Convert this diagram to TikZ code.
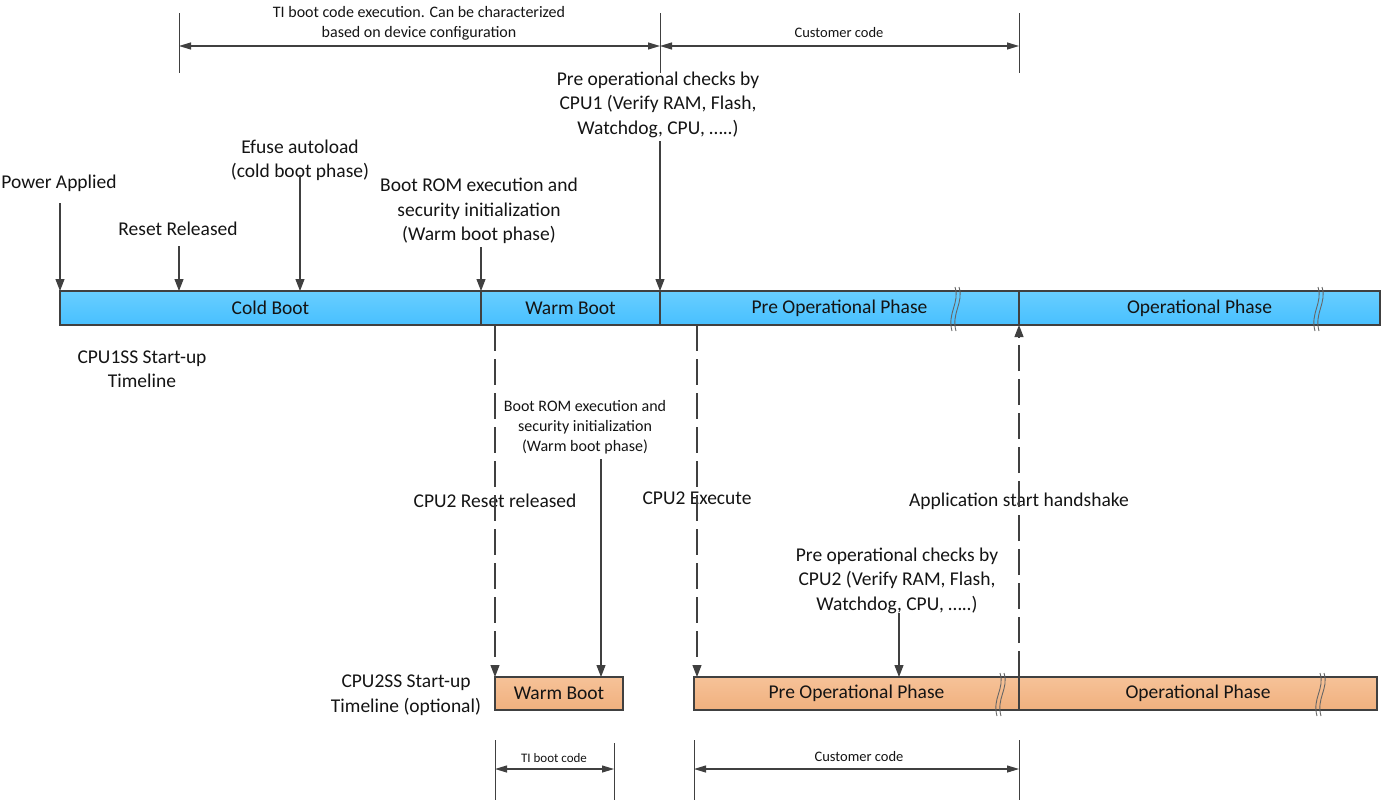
\documentclass[tikz,border=0pt]{standalone}
\usepackage{fontspec}
\setmainfont{Carlito}
\usetikzlibrary{arrows.meta}
\definecolor{ln}{RGB}{64,64,64}
\definecolor{txt}{RGB}{20,20,20}
\definecolor{blueT}{RGB}{104,206,255}
\definecolor{blueB}{RGB}{72,192,255}
\definecolor{orT}{RGB}{246,194,152}
\definecolor{orB}{RGB}{240,176,126}
\tikzset{
  big/.style={font=\fontsize{19.5}{24.5}\selectfont, text=txt, align=center, inner sep=0pt},
  mid/.style={font=\fontsize{16}{20}\selectfont, text=txt, align=center, inner sep=0pt},
  sml/.style={font=\fontsize{14.5}{18}\selectfont, text=txt, align=center, inner sep=0pt},
  bluebox/.style={draw=ln, line width=1.2pt, top color=blueT, bottom color=blueB, minimum height=34pt, inner sep=0pt, font=\fontsize{19.5}{24}\selectfont, text=txt},
  orbox/.style={draw=ln, line width=1.2pt, top color=orT, bottom color=orB, minimum height=33pt, inner sep=0pt, font=\fontsize{19.5}{24}\selectfont, text=txt},
  arr/.style={draw=ln, line width=1.1pt, -{Triangle[length=12pt,width=9pt]}},
  darr/.style={arr, dash pattern=on 26pt off 8pt},
  dim/.style={draw=ln, line width=1.1pt, {Triangle[length=12pt,width=7pt]}-{Triangle[length=12pt,width=7pt]}},
  tick/.style={draw=ln, line width=1pt},
  brkline/.style={draw=ln!80, line width=0.9pt},
}
\newcommand\brkmark[3]{% x, ytop, ybot
  \draw[brkline] (#1+2,#2-4) .. controls (#1+7,#2+12) and (#1-6,#3-12) .. (#1-1,#3+6);
  \draw[brkline] (#1+6,#2-4) .. controls (#1+11,#2+12) and (#1-2,#3-12) .. (#1+3,#3+6);
}
\begin{document}
\begin{tikzpicture}[x=1pt,y=-1pt]
\useasboundingbox (0,0) rectangle (1381,803);

% ---------- top bar ----------
\node[bluebox, minimum width=421pt] (cold) at (270.5,308) {Cold Boot};
\node[bluebox, minimum width=179pt] (warm) at (570.5,308) {Warm Boot};
\node[bluebox, minimum width=359pt] (pre) at (839.5,308) {Pre Operational Phase};
\node[bluebox, minimum width=361pt] (op) at (1199.5,308) {Operational Phase};
\brkmark{953}{291}{325}
\brkmark{1316}{291}{325}

% ---------- bottom bar ----------
\node[orbox, minimum width=128pt] (wb2) at (559,693.5) {Warm Boot};
\node[orbox, minimum width=325pt] (pre2) at (856.5,693.5) {Pre Operational Phase};
\node[orbox, minimum width=358pt] (op2) at (1198,693.5) {Operational Phase};
\brkmark{998}{677}{710}
\brkmark{1318}{677}{710}

% ---------- top labels ----------
\node[big] (power) at (59,183) {Power Applied};
\node[big] (reset) at (178,229) {Reset Released};
\node[big] (efuse) at (300,160.5) {Efuse autoload\\(cold boot phase)};
\node[big] (brom) at (479,211) {Boot ROM execution and\\security initialization\\(Warm boot phase)};
\node[big] (chk1) at (658,104.5) {Pre operational checks by\\CPU1 (Verify RAM, Flash,\\Watchdog, CPU, …..)};

\coordinate (tPow) at (60,291);
\coordinate (tRes) at (179,291);
\coordinate (tEf) at (300,291);
\coordinate (tBr) at (481,291);
\coordinate (tCk) at (660,291);
\draw[arr] (60,203) -- (tPow);
\draw[arr] (179,246) -- (tRes);
\draw[arr] (300,175) -- (tEf);
\draw[arr] (481,247) -- (tBr);
\draw[arr] (660,141) -- (tCk);

% ---------- top dimensions ----------
\draw[tick] (179,13) -- (179,73);
\draw[tick] (660,13) -- (660,73);
\draw[tick] (1019,13) -- (1019,73);
\coordinate (d1a) at (179,46);
\coordinate (d1b) at (660,46);
\coordinate (d1c) at (1019,46);
\draw[dim] (d1a) -- (d1b);
\draw[dim] (d1b) -- (d1c);
\node[mid] (tib) at (419,23) {TI boot code execution. Can be characterized\\based on device configuration};
\node[sml] (cc1) at (839,33) {Customer code};

% ---------- CPU1SS label ----------
\node[big] (cpu1ss) at (142,369) {CPU1SS Start-up\\Timeline};

% ---------- middle ----------
\node[mid] (brom2) at (585,427) {Boot ROM execution and\\security initialization\\(Warm boot phase)};
\node[big] (c2rr) at (495,501) {CPU2 Reset released};
\node[big] (c2ex) at (697,498) {CPU2 Execute};
\node[big] (app) at (1019,501) {Application start handshake};
\node[big] (chk2) at (897,580.5) {Pre operational checks by\\CPU2 (Verify RAM, Flash,\\Watchdog, CPU, …..)};
\node[big] (cpu2ss) at (406,695) {CPU2SS Start-up\\Timeline (optional)};

\coordinate (s1) at (495,325);
\coordinate (s2) at (697,325);
\coordinate (s3) at (1019,325);
\coordinate (e1) at (495,677);
\coordinate (e2) at (697,677);
\coordinate (e3) at (1019,677);
\coordinate (e4) at (601,677);
\coordinate (e5) at (899,677);
\draw[darr] (s1) -- (e1);
\draw[darr] (s2) -- (e2);
\draw[darr] (e3) -- (s3);
\draw[arr] (601,459) -- (e4);
\draw[arr] (899,613) -- (e5);

% ---------- bottom dimensions ----------
\draw[tick] (495,740) -- (495,800);
\draw[tick] (614,743) -- (614,800);
\draw[tick] (694,740) -- (694,800);
\draw[tick] (1019,740) -- (1019,800);
\coordinate (b1) at (495,769);
\coordinate (b2) at (614,769);
\coordinate (b3) at (694,769);
\coordinate (b4) at (1019,769);
\draw[dim] (b1) -- (b2);
\draw[dim] (b3) -- (b4);
\node[sml, font=\fontsize{13}{16}\selectfont] (tib2) at (554,758) {TI boot code};
\node[sml] (cc2) at (859,757) {Customer code};
\end{tikzpicture}
\end{document}
